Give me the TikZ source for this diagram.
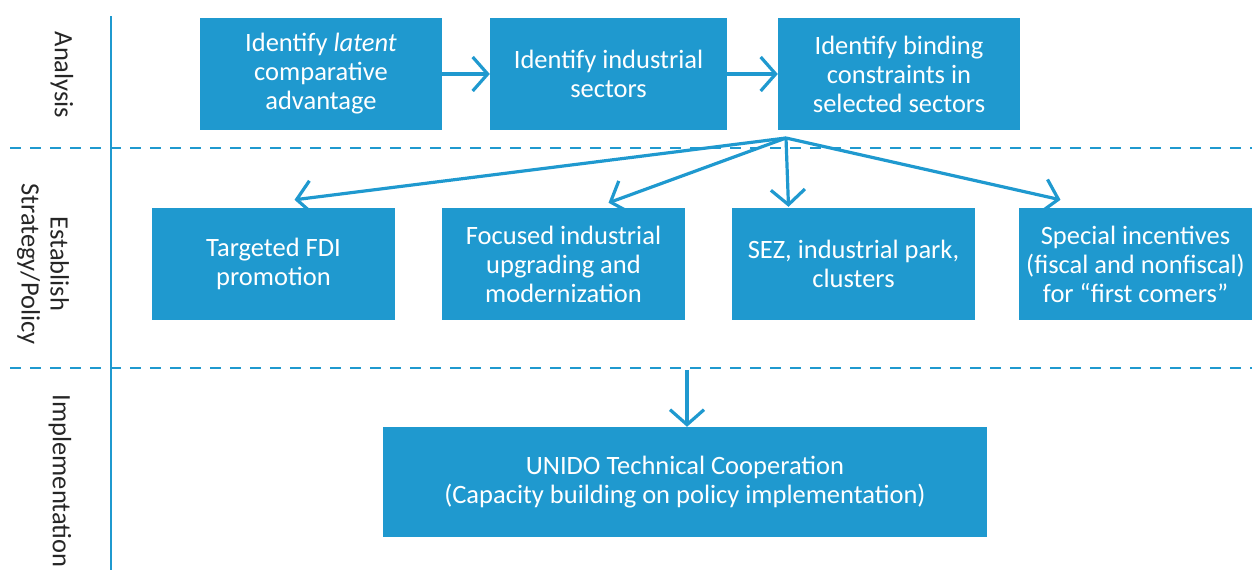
\documentclass[tikz,border=0pt]{standalone}
\usepackage{fontspec}
\setmainfont{Carlito}
\usetikzlibrary{arrows.meta}
\definecolor{flowblue}{RGB}{31,153,207}
\begin{document}
\begin{tikzpicture}[x=1pt,y=-1pt,
  box/.style={fill=flowblue,draw=none,text=white,align=center,
    inner sep=0pt,font=\fontsize{26.5}{29}\selectfont},
  lane/.style={text=black!85,align=center,rotate=-90,
    font=\fontsize{26.5}{29}\selectfont},
  arr/.style={flowblue,line width=3.2pt,
    -{Straight Barb[length=15pt,width=34pt,line width=3.2pt]}},
  sep/.style={flowblue,line width=2.5pt,dash pattern=on 11pt off 9pt}]
\useasboundingbox (0,0) rectangle (1252,570);

% lane separators
\draw[flowblue,line width=2.5pt] (111,16) -- (111,570);
\draw[sep] (10,148) -- (1252,148);
\draw[sep] (10,368) -- (1252,368);

% lane titles
\node[lane] (lanA) at (62,75) {Analysis};
\node[lane] (lanB) at (43,264) {Establish\\Strategy/Policy};
\node[lane] (lanC) at (60,481) {Implementation};

% analysis steps
\node[box,minimum width=242pt,minimum height=112pt] (a1) at (321,74)
  {Identify \textit{latent}\\comparative\\advantage};
\node[box,minimum width=237pt,minimum height=112pt] (a2) at (608.5,74)
  {Identify industrial\\sectors};
\node[box,minimum width=242pt,minimum height=112pt] (a3) at (899,74)
  {Identify binding\\constraints in\\selected sectors};

% strategy / policy options
\node[box,minimum width=243pt,minimum height=112pt] (b1) at (273.5,264)
  {Targeted FDI\\promotion};
\node[box,minimum width=243pt,minimum height=112pt] (b2) at (563.5,264)
  {Focused industrial\\upgrading and\\modernization};
\node[box,minimum width=243pt,minimum height=112pt] (b3) at (853.5,264)
  {SEZ, industrial park,\\clusters};
\node[box,minimum width=233pt,minimum height=112pt] (b4) at (1135.5,264)
  {Special incentives\\(fiscal and nonfiscal)\\for “first comers”};

% implementation
\node[box,minimum width=604pt,minimum height=110pt] (c) at (685,482)
  {UNIDO Technical Cooperation\\(Capacity building on policy implementation)};

% connectors
\draw[arr] (a1.east) -- (a2.west);
\draw[arr] (a2.east) -- (a3.west);
\coordinate (hub) at (786,138);
\draw[arr] (hub) -- ([xshift=21pt,yshift=8pt]b1.north);
\draw[arr] (hub) -- ([xshift=45pt,yshift=5pt]b2.north);
\draw[arr] (hub) -- ([xshift=-65pt,yshift=1pt]b3.north);
\draw[arr] (hub) -- ([xshift=-75pt,yshift=8pt]b4.north);
\coordinate (impl) at (687,370);
\draw[arr] (impl) -- ([xshift=2pt]c.north);
\end{tikzpicture}
\end{document}
